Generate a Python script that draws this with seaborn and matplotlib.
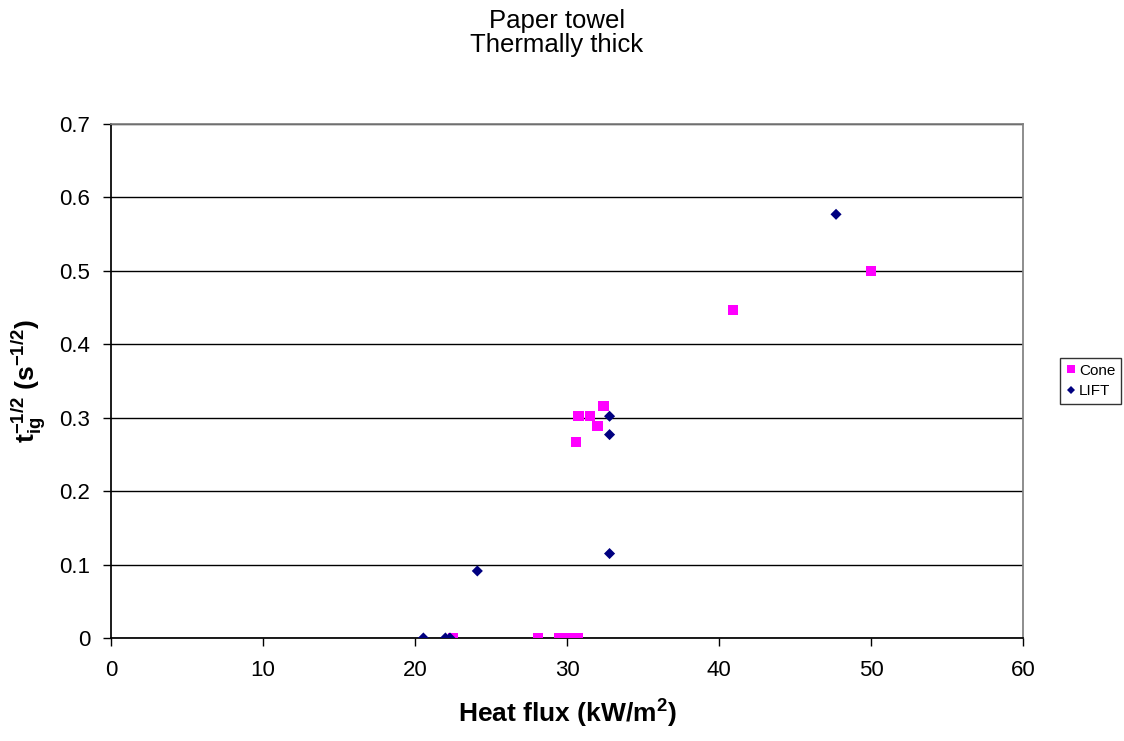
import numpy as np
import pandas as pd
import seaborn as sns
import matplotlib.pyplot as plt

# data
cone_flux = [22.5, 28.1, 29.5, 30.1, 30.7, 30.6, 30.75, 31.5, 32.0, 32.4, 40.9, 50.0]
cone_t = [0.0, 0.0, 0.0, 0.0, 0.0, 0.267, 0.302, 0.302, 0.289, 0.316, 0.447, 0.500]
lift_flux = [20.55, 22.0, 22.3, 24.1, 32.8, 32.8, 32.8, 47.7]
lift_t = [0.0, 0.0, 0.0, 0.0913, 0.115, 0.277, 0.302, 0.577]

df = pd.DataFrame({
    'flux': cone_flux + lift_flux,
    't': cone_t + lift_t,
    'Series': ['Cone'] * len(cone_flux) + ['LIFT'] * len(lift_flux),
})

sns.set_theme(style='white', rc={'text.color': 'black', 'axes.labelcolor': 'black',
                                 'xtick.color': 'black', 'ytick.color': 'black'})
plt.rcParams['font.family'] = ['Liberation Sans', 'DejaVu Sans']
plt.rcParams['mathtext.fontset'] = 'custom'
plt.rcParams['mathtext.rm'] = 'Liberation Sans'
plt.rcParams['mathtext.it'] = 'Liberation Sans'
plt.rcParams['mathtext.bf'] = 'Liberation Sans:bold'

fig = plt.figure(figsize=(11.24, 7.41), dpi=100)
ax = fig.add_axes([111 / 1124, 1 - 638 / 741, 912 / 1124, 514 / 741])

sns.scatterplot(ax=ax, data=df, x='flux', y='t', hue='Series', style='Series',
                size='Series',
                palette={'Cone': '#ff00ff', 'LIFT': '#000080'},
                markers={'Cone': 's', 'LIFT': 'D'},
                sizes={'Cone': 55, 'LIFT': 32}, linewidth=0, zorder=3)

ax.set_xlim(0, 60)
ax.set_ylim(0, 0.7)
ax.set_xticks(np.arange(0, 61, 10))
ax.set_yticks(np.arange(0, 0.71, 0.1))
ax.set_yticklabels(['0', '0.1', '0.2', '0.3', '0.4', '0.5', '0.6', '0.7'])
ax.tick_params(axis='both', labelsize=16, length=6, width=1, color='black',
               bottom=True, left=True, direction='out')
ax.tick_params(axis='x', pad=10)
ax.tick_params(axis='y', pad=9)
ax.yaxis.grid(True, color='black', linewidth=1)
ax.set_axisbelow(True)
for side in ['top', 'right']:
    ax.spines[side].set_color('#808080')
for side in ['left', 'bottom']:
    ax.spines[side].set_color('black')

ax.set_xlabel('Heat flux (kW/m$^\\mathbf{2}$)', fontsize=19, fontweight='bold', labelpad=12)
ax.set_ylabel(r'$\mathbf{t_{ig}^{-1/2}\ (s^{-1/2})}$', fontsize=19, labelpad=7)
fig.text(557 / 1124, 1 - 33 / 741, 'Paper towel\nThermally thick', ha='center',
         va='center', fontsize=18.5, linespacing=1.05)

handles, labels = ax.get_legend_handles_labels()
leg = ax.legend(handles=handles, labels=labels, loc='center left',
                bbox_to_anchor=(1.032, 0.5), frameon=True, fontsize=11,
                handletextpad=0.1, borderpad=0.35, labelspacing=0.45,
                handlelength=0.8, fancybox=False, markerscale=0.8)
leg.get_frame().set_edgecolor('black')
leg.get_frame().set_linewidth(1)

fig.savefig('out.png', dpi=100)
